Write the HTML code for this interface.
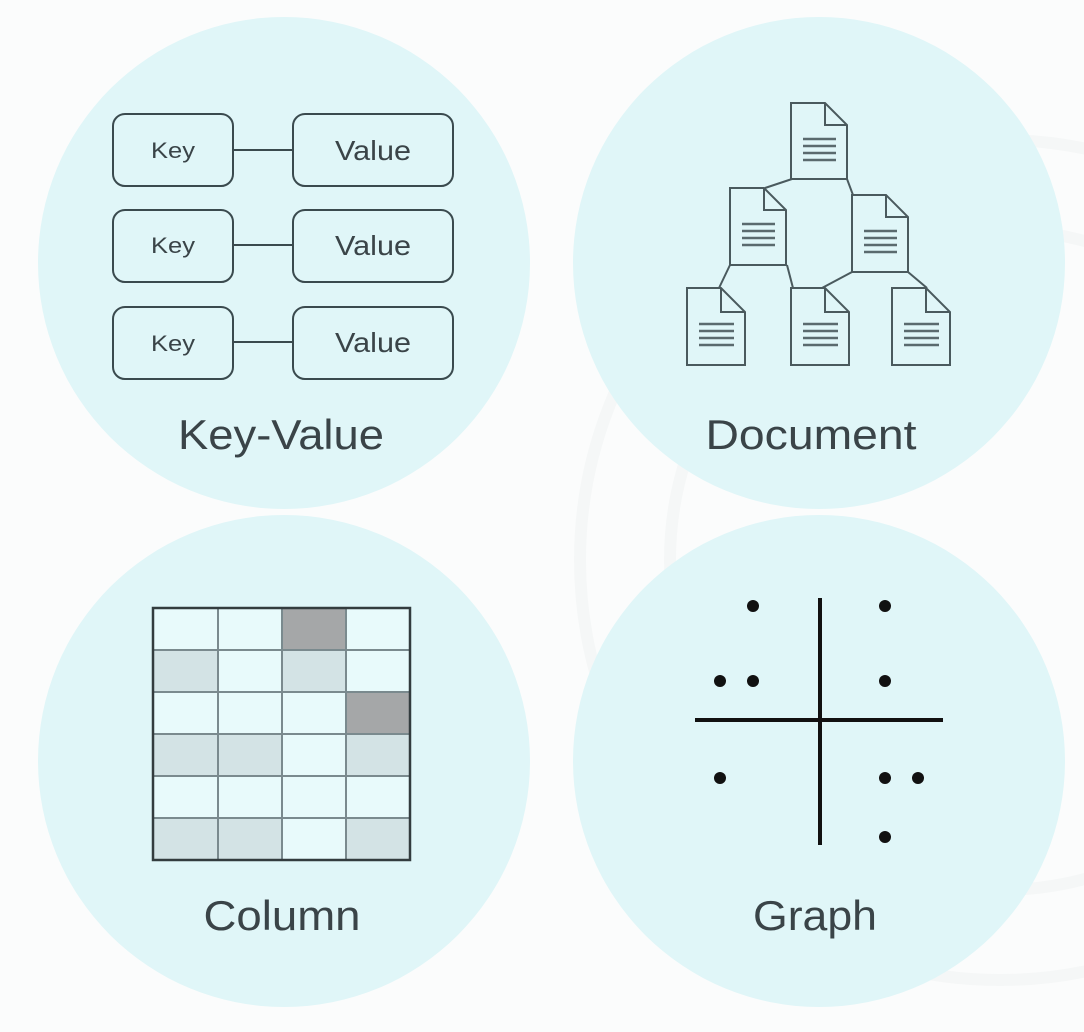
<!DOCTYPE html>
<html><head><meta charset="utf-8"><style>
html,body{margin:0;padding:0;background:#fbfcfc;}
svg{display:block;}
text{font-family:"Liberation Sans",sans-serif;fill:#3a4448;}
</style></head><body>
<svg width="1084" height="1032" viewBox="0 0 1084 1032" xmlns="http://www.w3.org/2000/svg">
<rect width="1084" height="1032" fill="#fbfcfc"/>
<g fill="none" stroke="#f5f7f7" stroke-width="12">
<circle cx="1000" cy="560" r="420"/>
<circle cx="1000" cy="560" r="330"/>
</g>
<g fill="#e0f6f8">
<circle cx="284" cy="263" r="246"/>
<circle cx="819" cy="263" r="246"/>
<circle cx="284" cy="761" r="246"/>
<circle cx="819" cy="761" r="246"/>
</g>
<!-- Key-Value -->
<g stroke="#3a4a4e" stroke-width="2" fill="none">
<rect x="113" y="114" width="120" height="72" rx="12"/>
<rect x="293" y="114" width="160" height="72" rx="12"/>
<line x1="233" y1="150" x2="293" y2="150"/>
<rect x="113" y="210" width="120" height="72" rx="12"/>
<rect x="293" y="210" width="160" height="72" rx="12"/>
<line x1="233" y1="245" x2="293" y2="245"/>
<rect x="113" y="307" width="120" height="72" rx="12"/>
<rect x="293" y="307" width="160" height="72" rx="12"/>
<line x1="233" y1="342" x2="293" y2="342"/>
</g>
<g font-size="22" text-anchor="middle">
<text x="173" y="158" textLength="44" lengthAdjust="spacingAndGlyphs">Key</text><text x="373" y="160" font-size="28" textLength="76" lengthAdjust="spacingAndGlyphs">Value</text>
<text x="173" y="253" textLength="44" lengthAdjust="spacingAndGlyphs">Key</text><text x="373" y="255" font-size="28" textLength="76" lengthAdjust="spacingAndGlyphs">Value</text>
<text x="173" y="351" textLength="44" lengthAdjust="spacingAndGlyphs">Key</text><text x="373" y="352" font-size="28" textLength="76" lengthAdjust="spacingAndGlyphs">Value</text>
</g>
<text x="281" y="449" font-size="42" text-anchor="middle" textLength="206" lengthAdjust="spacingAndGlyphs">Key-Value</text>
<!-- Document -->
<g stroke="#4a5a5e" stroke-width="2" fill="none">
<line x1="792" y1="179" x2="765" y2="188"/>
<line x1="847" y1="179" x2="853" y2="195"/>
<line x1="730" y1="265" x2="719" y2="288"/>
<line x1="787" y1="265" x2="793" y2="288"/>
<line x1="852" y1="272" x2="822" y2="288"/>
<line x1="908" y1="272" x2="927" y2="288"/>
</g>
<g stroke="#4a5a5e" stroke-width="2" fill="#e0f6f8">
<g transform="translate(791,103)"><path d="M0 0H34L56 22V76H0Z"/><path d="M34 0V22H56" fill="none"/><path d="M12 36H45M12 43H45M12 50H45M12 57H45" stroke="#5a6a6e" stroke-width="2.5"/></g>
<g transform="translate(730,188)"><path d="M0 0H34L56 22V77H0Z"/><path d="M34 0V22H56" fill="none"/><path d="M12 36H45M12 43H45M12 50H45M12 57H45" stroke="#5a6a6e" stroke-width="2.5"/></g>
<g transform="translate(852,195)"><path d="M0 0H34L56 22V77H0Z"/><path d="M34 0V22H56" fill="none"/><path d="M12 36H45M12 43H45M12 50H45M12 57H45" stroke="#5a6a6e" stroke-width="2.5"/></g>
<g transform="translate(687,288)"><path d="M0 0H34L58 24V77H0Z"/><path d="M34 0V24H58" fill="none"/><path d="M12 36H47M12 43H47M12 50H47M12 57H47" stroke="#5a6a6e" stroke-width="2.5"/></g>
<g transform="translate(791,288)"><path d="M0 0H34L58 24V77H0Z"/><path d="M34 0V24H58" fill="none"/><path d="M12 36H47M12 43H47M12 50H47M12 57H47" stroke="#5a6a6e" stroke-width="2.5"/></g>
<g transform="translate(892,288)"><path d="M0 0H34L58 24V77H0Z"/><path d="M34 0V24H58" fill="none"/><path d="M12 36H47M12 43H47M12 50H47M12 57H47" stroke="#5a6a6e" stroke-width="2.5"/></g>
</g>
<text x="811" y="449" font-size="42" text-anchor="middle" textLength="211" lengthAdjust="spacingAndGlyphs">Document</text>
<!-- Column -->
<g>
<rect x="153" y="608" width="257" height="252" fill="#e8fafb"/>
<rect x="282" y="608" width="64" height="42" fill="#a5a7a8"/>
<rect x="346" y="692" width="64" height="42" fill="#a5a7a8"/>
<g fill="#d3e3e5">
<rect x="153" y="650" width="65" height="42"/><rect x="282" y="650" width="64" height="42"/>
<rect x="153" y="734" width="65" height="42"/><rect x="218" y="734" width="64" height="42"/><rect x="346" y="734" width="64" height="42"/>
<rect x="153" y="818" width="65" height="42"/><rect x="218" y="818" width="64" height="42"/><rect x="346" y="818" width="64" height="42"/>
</g>
<g stroke="#7a8a8e" stroke-width="2">
<path d="M218 608V860M282 608V860M346 608V860M153 650H410M153 692H410M153 734H410M153 776H410M153 818H410"/>
</g>
<rect x="153" y="608" width="257" height="252" fill="none" stroke="#333c3e" stroke-width="2.5"/>
</g>
<text x="282" y="930" font-size="42" text-anchor="middle" textLength="157" lengthAdjust="spacingAndGlyphs">Column</text>
<!-- Graph -->
<g stroke="#111" stroke-width="4">
<line x1="820" y1="598" x2="820" y2="845"/>
<line x1="695" y1="720" x2="943" y2="720"/>
</g>
<g fill="#111">
<circle cx="753" cy="606" r="6"/><circle cx="885" cy="606" r="6"/>
<circle cx="720" cy="681" r="6"/><circle cx="753" cy="681" r="6"/><circle cx="885" cy="681" r="6"/>
<circle cx="720" cy="778" r="6"/><circle cx="885" cy="778" r="6"/><circle cx="918" cy="778" r="6"/>
<circle cx="885" cy="837" r="6"/>
</g>
<text x="815" y="930" font-size="42" text-anchor="middle" textLength="124" lengthAdjust="spacingAndGlyphs">Graph</text>
</svg>
</body></html>
